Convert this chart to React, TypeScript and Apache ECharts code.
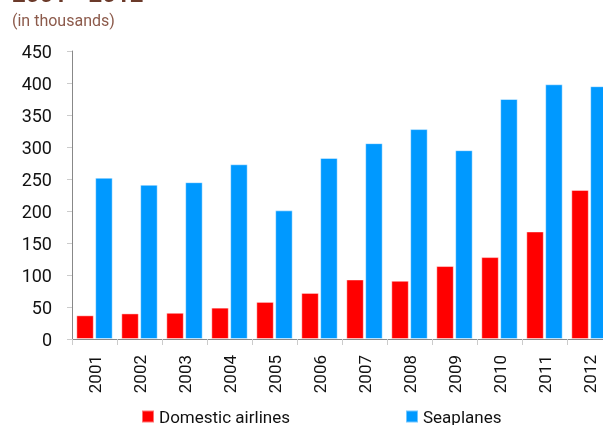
import React, { useEffect, useRef } from "react";
import * as echarts from "echarts";

const years = ["2001","2002","2003","2004","2005","2006","2007","2008","2009","2010","2011","2012"];
const domestic = [37, 40, 41, 49, 58, 72, 93, 91, 114, 128, 168, 233];
const seaplanes = [252, 241, 245, 273, 201, 283, 306, 328, 295, 375, 398, 395];
const yTicks = { min: 0, max: 450, interval: 50 };

const FONT = "Roboto";

export default function App() {
  const ref = useRef<HTMLDivElement>(null);
  useEffect(() => {
    document.body.style.margin = "0";
    const chart = echarts.init(ref.current!, null, { renderer: "svg" });
    chart.setOption({
      animation: false,
      textStyle: { fontFamily: FONT },
      title: [
        {
          text: "2001 - 2012",
          left: 12,
          top: -18,
          padding: 0,
          textStyle: { fontFamily: FONT, fontSize: 24, fontWeight: "bold", color: "#6b3a2a" },
        },
        {
          text: "(in thousands)",
          left: 12,
          top: 12,
          padding: 0,
          textStyle: { fontFamily: FONT, fontSize: 16, fontWeight: "normal", color: "#8c5a4b" },
        },
      ],
      legend: [
        {
          data: ["Domestic airlines"],
          left: 141,
          top: 408,
          padding: 0,
          itemWidth: 12,
          itemHeight: 12,
          icon: "rect",
          textStyle: { fontFamily: FONT, fontSize: 17, color: "#111" },
        },
        {
          data: ["Seaplanes"],
          left: 405,
          top: 408,
          padding: 0,
          itemWidth: 12,
          itemHeight: 12,
          icon: "rect",
          textStyle: { fontFamily: FONT, fontSize: 17, color: "#111" },
        },
      ],
      grid: { left: 72, top: 51, bottom: 86, right: 0, containLabel: false },
      xAxis: {
        type: "category",
        data: years,
        axisLine: { show: true, lineStyle: { color: "#888", width: 1 } },
        axisTick: { show: true, length: 6, lineStyle: { color: "#ccc" } },
        axisLabel: { rotate: 90, margin: 16, fontSize: 17, color: "#111", fontFamily: FONT },
        splitLine: { show: false },
      },
      yAxis: {
        type: "value",
        min: yTicks.min,
        max: yTicks.max,
        interval: yTicks.interval,
        axisLine: { show: true, lineStyle: { color: "#888", width: 1 } },
        axisTick: { show: true, length: 5, lineStyle: { color: "#ccc" } },
        axisLabel: { margin: 20, fontSize: 18, color: "#111", fontFamily: FONT },
        splitLine: { show: false },
      },
      series: [
        {
          name: "Domestic airlines",
          type: "bar",
          data: domestic,
          barWidth: 17.5,
          barGap: "8%",
          itemStyle: { color: "#ff0000", borderColor: "rgba(255,255,255,0.45)", borderWidth: 1 },
        },
        {
          name: "Seaplanes",
          type: "bar",
          data: seaplanes,
          barWidth: 17.5,
          barGap: "8%",
          itemStyle: { color: "#0099ff", borderColor: "rgba(255,255,255,0.45)", borderWidth: 1 },
        },
      ],
    });
    return () => chart.dispose();
  }, []);
  return (
    <div style={{ position: "fixed", left: 0, top: 0, width: 603, height: 425, overflow: "hidden" }}>
      <div ref={ref} style={{ position: "absolute", left: 0, top: 0, width: 612, height: 425 }} />
    </div>
  );
}
